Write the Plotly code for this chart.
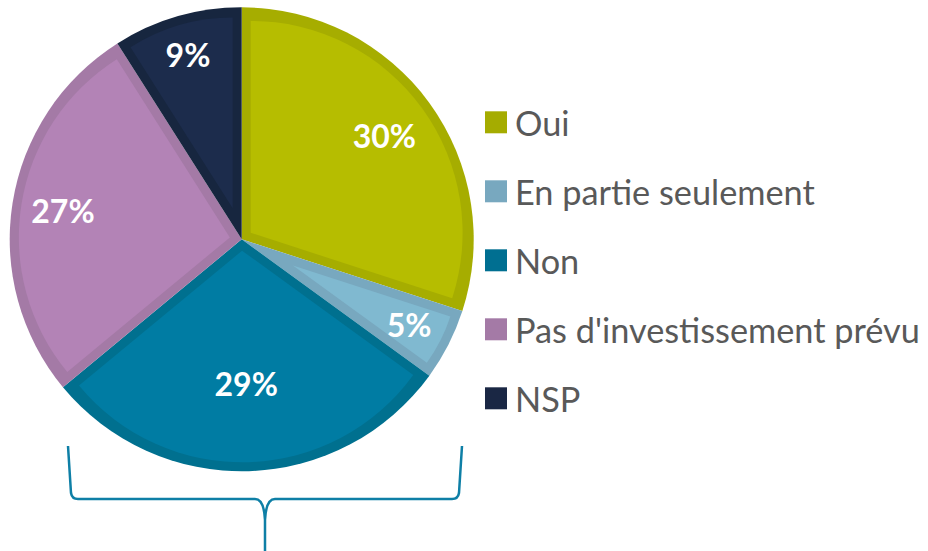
import math
import plotly.graph_objects as go

# ---- data ----
labels = ["Oui", "En partie seulement", "Non", "Pas d'investissement prévu", "NSP"]
values = [30, 5, 29, 27, 9]

# ---- style ----
fill_colors = ["#b6bd00", "#80b9d0", "#007ca3", "#b383b6", "#1c2c4c"]
edge_colors = ["#a6ad00", "#78a8bf", "#00708f", "#a47aa6", "#17263f"]
legend_colors = ["#a5ac00", "#78a8bf", "#006f91", "#a47aa6", "#1a2744"]
label_radius = [0.76, 0.81, 0.62, 0.78, 0.83]   # label distance from centre, fraction of radius

W, H = 928, 551
CX, CY, R = 241.7, 239.3, 232.0
BAND = 9.0
FONT = "Lato"
transparent = "rgba(0,0,0,0)"


def dom(cx, cy, half):
    return dict(x=[(cx - half) / W, (cx + half) / W],
                y=[1 - (cy + half) / H, 1 - (cy - half) / H])


def px(x, y):
    return x / W, 1 - y / H


common = dict(labels=labels, values=values, sort=False, direction="clockwise",
              rotation=0, hoverinfo="skip", showlegend=False)

fig = go.Figure()

# dark full pie (forms the inset border band)
fig.add_trace(go.Pie(marker=dict(colors=edge_colors, line=dict(width=0)),
                     textinfo="none", domain=dom(CX, CY, R), **common))

total = sum(values)
# light inset slices: one trace per slice, pulled so the edges sit BAND px inside
for i, v in enumerate(values):
    half_ang = math.pi * v / total
    d = BAND / math.sin(half_ang)
    p = d / (R - BAND - d)
    cols = [transparent] * len(values)
    cols[i] = fill_colors[i]
    pulls = [0] * len(values)
    pulls[i] = p
    fig.add_trace(go.Pie(marker=dict(colors=cols, line=dict(width=0)), pull=pulls,
                         textinfo="none", domain=dom(CX, CY, R - BAND), **common))

# percentage labels: one transparent trace per slice
for i, v in enumerate(values):
    half_ang = math.pi * v / total
    s = math.sin(half_ang) if half_ang < math.pi / 2 else 1.0
    f = 1 / (1 + s)
    g = label_radius[i]
    if g >= f:
        half, p = R, (g - f) / (1 - g)
    else:
        half, p = R * g / f, 0.0
    tmpl = [""] * len(values)
    tmpl[i] = "%{percent:.0%}"
    pulls = [0] * len(values)
    pulls[i] = p
    fig.add_trace(go.Pie(
        marker=dict(colors=[transparent] * len(values), line=dict(width=0)),
        pull=pulls, texttemplate=tmpl, textposition="inside",
        insidetextorientation="horizontal",
        insidetextfont=dict(color="white", size=32, family=FONT, weight="bold"),
        domain=dom(CX, CY, half), **common))

shapes = []
annotations = []
# custom legend
for i, lab in enumerate(labels):
    yc = 122.3 + 69 * i
    x0, y0 = px(485, yc - 11)
    x1, y1 = px(507, yc + 11)
    shapes.append(dict(type="rect", xref="paper", yref="paper",
                       x0=x0, x1=x1, y0=y1, y1=y0,
                       fillcolor=legend_colors[i], line=dict(width=0)))
    tx, ty = px(513, yc)
    annotations.append(dict(xref="paper", yref="paper", x=tx, y=ty,
                            xanchor="left", yanchor="middle", showarrow=False,
                            text=lab, font=dict(family=FONT, size=34.3, color="#595959")))


def fmt(p):
    return f"{p[0]:.5f},{p[1]:.5f}"


# curly brace under the pie
path = (f"M{fmt(px(68, 446))} L{fmt(px(71, 493))} Q{fmt(px(72, 499))} {fmt(px(78, 499))} "
        f"L{fmt(px(255, 499))} Q{fmt(px(264, 499))} {fmt(px(265, 520))} L{fmt(px(265, 551))} "
        f"M{fmt(px(462, 446))} L{fmt(px(459, 493))} Q{fmt(px(458, 499))} {fmt(px(452, 499))} "
        f"L{fmt(px(275, 499))} Q{fmt(px(266, 499))} {fmt(px(265, 520))}")
shapes.append(dict(type="path", xref="paper", yref="paper", path=path,
                   line=dict(color="#0e7fa6", width=2.5)))

fig.update_layout(
    width=W, height=H,
    margin=dict(l=0, r=0, t=0, b=0),
    paper_bgcolor="white", plot_bgcolor="white",
    showlegend=False,
    shapes=shapes, annotations=annotations,
    uniformtext=dict(minsize=32, mode="show"),
    font=dict(family=FONT),
)

fig.write_html("out.html", config={"displayModeBar": False},
               post_script="document.body.style.margin='0px';")
